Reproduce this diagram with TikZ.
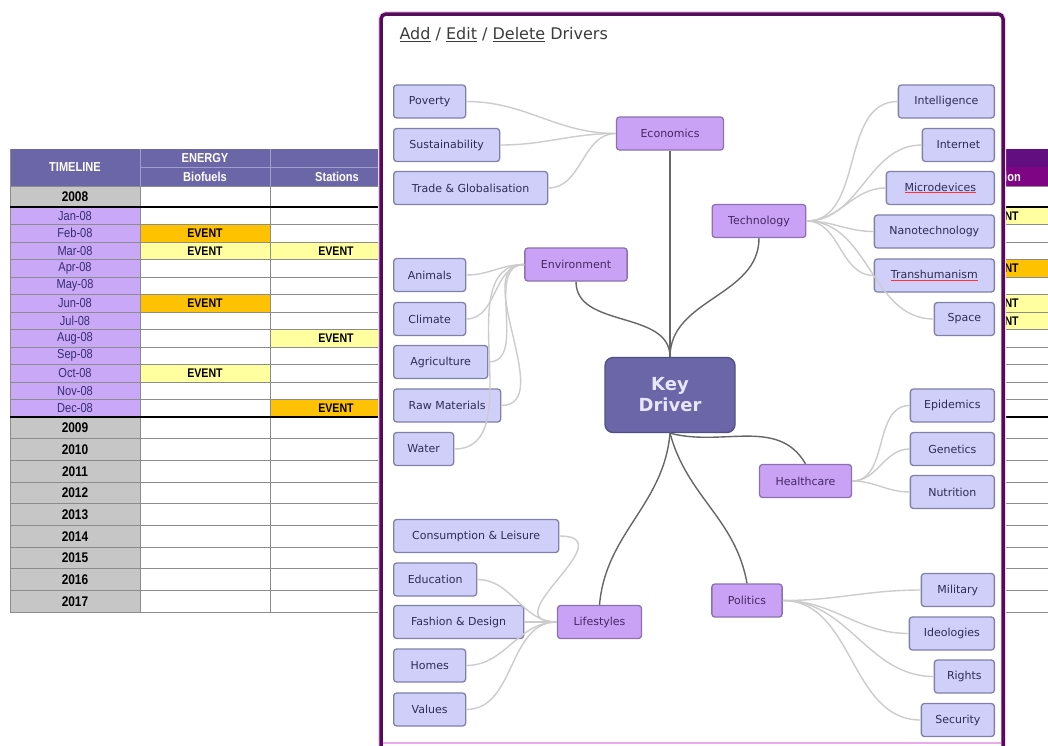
\documentclass[tikz,border=0pt]{standalone}
\usepackage{fontspec}
\setmainfont{DejaVu Sans}
\newfontfamily\tabfont[FakeStretch=0.85]{Liberation Sans}
\definecolor{hdr}{RGB}{106,102,168}
\definecolor{hdrline}{RGB}{160,158,205}
\definecolor{hdrb}{RGB}{98,14,128}
\definecolor{hdrc}{RGB}{126,6,132}
\definecolor{monthc}{RGB}{201,168,247}
\definecolor{monthtxt}{RGB}{55,45,115}
\definecolor{yearc}{RGB}{198,198,198}
\definecolor{evo}{RGB}{255,194,0}
\definecolor{evy}{RGB}{255,255,160}
\definecolor{plum}{RGB}{86,10,90}
\definecolor{glow}{RGB}{243,212,243}
\definecolor{pinkline}{RGB}{236,170,236}
\definecolor{topicc}{RGB}{201,162,246}
\definecolor{topicline}{RGB}{140,112,176}
\definecolor{topictxt}{RGB}{70,40,100}
\definecolor{leafc}{RGB}{207,207,250}
\definecolor{leafline}{RGB}{128,128,168}
\definecolor{leaftxt}{RGB}{45,45,85}
\definecolor{kdc}{RGB}{106,102,168}
\definecolor{kdline}{RGB}{80,78,132}
\definecolor{kdtxt}{RGB}{232,230,250}
\definecolor{titletxt}{RGB}{60,60,60}
\newcommand\spellmark[1]{{\color{red!80}\underline{\color{leaftxt}#1}}}
\begin{document}
\begin{tikzpicture}[x=1pt,y=1pt,
		grid/.style={draw=black!45,line width=.9pt},
		month/.style={inner sep=0pt,text=monthtxt,font=\tabfont\fontsize{13}{13}\selectfont},
		year/.style={inner sep=0pt,font=\tabfont\bfseries\fontsize{14}{14}\selectfont},
		event/.style={inner sep=0pt,font=\tabfont\bfseries\fontsize{12.5}{12.5}\selectfont},
		head/.style={inner sep=0pt,text=white,font=\tabfont\bfseries\fontsize{13}{13}\selectfont},
		leaf/.style={draw=leafline,fill=leafc,rounded corners=3pt,line width=1.3pt,minimum height=33pt,inner xsep=8pt,text=leaftxt,font=\fontsize{11}{13}\selectfont},
		topic/.style={leaf,draw=topicline,fill=topicc,inner xsep=16pt,text=topictxt},
		twig/.style={draw=black!20,line width=1.4pt},
		branch/.style={draw=black!60,line width=1.4pt}]
	\useasboundingbox[fill=white] (0,0) rectangle (1048,-745);
	% timeline sheet
	\fill[hdr] (10,-149) rectangle (402,-186);
	\fill[hdrb] (402,-149) rectangle (1048,-167);
	\fill[hdrc] (402,-167) rectangle (1048,-186);
	\draw[hdrline] (140,-167)--(402,-167) (140,-149)--(140,-186) (270,-149)--(270,-186);
	\node[head] (tl) at (75,-167.5) {TIMELINE};
	\node[head] (energy) at (205,-158) {ENERGY};
	\node[head] (bio) at (205,-176.5) {Biofuels};
	\node[head] (sta) at (337,-176.5) {Stations};
	\node[head,anchor=west] (ion) at (1004,-176.5) {ion};
	\fill[yearc] (10,-186) rectangle (140,-207);
	\node[year] (y2008) at (75,-196.5) {2008};
	\foreach \m [count=\i from 0] in {Jan,Feb,Mar,Apr,May,Jun,Jul,Aug,Sep,Oct,Nov,Dec}{
		\fill[monthc] (10,{-207-17.5*\i}) rectangle (140,{-224.5-17.5*\i});
		\node[month] (m\i) at (75,{-215.75-17.5*\i}) {\m-08};}
	\foreach \yr [count=\i from 0] in {2009,...,2017}{
		\fill[yearc] (10,{-417-21.67*\i}) rectangle (140,{-438.67-21.67*\i});
		\node[year] (y\yr) at (75,{-427.83-21.67*\i}) {\yr};}
	\foreach \a/\b/\r/\c [count=\k] in {140/270/1/evo,140/270/2/evy,140/270/5/evo,140/270/9/evy,270/402/2/evy,270/402/7/evy,270/402/11/evo,952/1050/0/evy,952/1050/3/evo,952/1050/5/evy,952/1050/6/evy}{
		\fill[\c] (\a,{-207-17.5*\r}) rectangle (\b,{-224.5-17.5*\r});
		\node[event] (ev\k) at ({(\a+\b)/2},{-215.75-17.5*\r}) {EVENT};}
	\draw[grid] (10,-186)--(1048,-186);
	\foreach \i in {1,...,11} \draw[grid] (10,{-207-17.5*\i})--(1048,{-207-17.5*\i});
	\foreach \i in {1,...,9} \draw[grid] (10,{-417-21.67*\i})--(1048,{-417-21.67*\i});
	\foreach \x in {10,140,270,402,952} \draw[grid] (\x,-186)--(\x,-612);
	\draw[grid] (10,-149)--(10,-186);
	\draw[line width=1.8pt] (10,-207)--(1048,-207) (10,-417)--(1048,-417);
	% popup
	\draw[glow,line width=6pt,rounded corners=6pt] (381,-760)--(381,-14)--(1003,-14)--(1003,-760);
	\draw[plum,fill=white,line width=3.5pt,rounded corners=5pt] (381,-760)--(381,-14)--(1003,-14)--(1003,-760);
	\draw[pinkline,line width=2pt] (383,-743)--(1001,-743);
	\node[anchor=west,text=titletxt,font=\fontsize{16}{19}\selectfont] (title) at (396,-35) {\underline{Add} / \underline{Edit} / \underline{Delete} Drivers};
	% mind map
	\node[draw=kdline,fill=kdc,rounded corners=8pt,line width=1.3pt,minimum width=130pt,minimum height=75pt,align=center,text=kdtxt,font=\bfseries\fontsize{18}{21}\selectfont] (kd) at (670,-395) {Key\\Driver};
	\node[topic,minimum width=107pt] (eco) at (670,-133.5) {Economics};
	\node[topic] (tec) at (759,-221) {Technology};
	\node[topic] (env) at (576,-264.5) {Environment};
	\node[topic] (hea) at (805.5,-481) {Healthcare};
	\node[topic] (lif) at (599.5,-622) {Lifestyles};
	\node[topic] (pol) at (747,-600.5) {Politics};
	\foreach \n/\t/\y/\w in {pov/Poverty/101.5/72,sus/Sustainability/145/106,tra/Trade \& Globalisation/188/154,ani/Animals/275/72,cli/Climate/319/72,agr/Agriculture/362/94,raw/Raw Materials/405.5/107,wat/Water/449/60,con/Consumption \& Leisure/536/165,edu/Education/579.5/83,fas/Fashion \& Design/622/130,hom/Homes/665.5/72,val/Values/709.5/72}
		\node[leaf,anchor=west,minimum width=\w pt] (\n) at (393,-\y) {\t};
	\foreach \n/\t/\y/\w in {int/Intelligence/101.5/96,net/Internet/145/72,mic/\spellmark{Microdevices}/188/108,nan/Nanotechnology/231.5/120,trh/\spellmark{Transhumanism}/275.5/120,spa/Space/319/60,epi/Epidemics/405.5/84,gen/Genetics/449/84,nut/Nutrition/492/84,mil/Military/590/73,ide/Ideologies/633.5/85,rig/Rights/676.5/60,sec/Security/720/73}
		\node[leaf,anchor=east,minimum width=\w pt] (\n) at (995,-\y) {\t};
	\foreach \n in {pov,sus,tra} \draw[twig] (eco.west) to[out=180,in=0] (\n.east);
	\foreach \n in {ani,cli,agr,raw,wat} \draw[twig] (env.west) to[out=180,in=0] (\n.east);
	\foreach \n in {edu,fas,hom,val} \draw[twig] (lif.west) to[out=180,in=0] (\n.east);
	\draw[twig] (lif.west) to[out=180,in=0,looseness=2] (con.east);
	\foreach \n in {int,net,mic,nan,trh,spa} \draw[twig] (tec.east) to[out=0,in=180] (\n.west);
	\foreach \n in {epi,gen,nut} \draw[twig] (hea.east) to[out=0,in=180] (\n.west);
	\foreach \n in {mil,ide,rig,sec} \draw[twig] (pol.east) to[out=0,in=180] (\n.west);
	\draw[branch] (eco.south)--(kd.north);
	\draw[branch] (tec.south) to[out=-90,in=90] (kd.north);
	\draw[branch] (env.south) to[out=-90,in=90] (kd.north);
	\draw[branch] (kd.south) to[out=-15,in=120] (hea.north);
	\draw[branch] (kd.south) to[out=-75,in=100] (pol.north);
	\draw[branch] (kd.south) to[out=-95,in=85] (lif.north);
	%\draw[ultra thin,cyan] (0,0) grid[step=50] (1048,-745);
\end{tikzpicture}
\end{document}
